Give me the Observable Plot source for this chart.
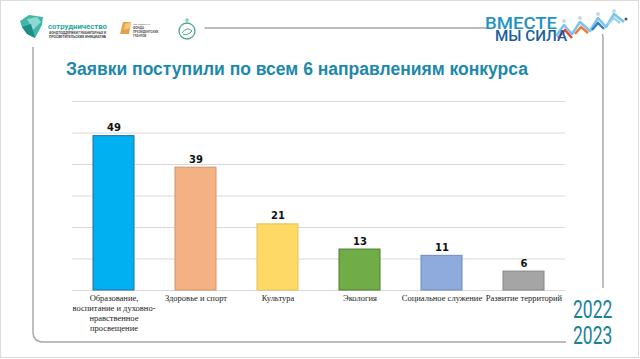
<!DOCTYPE html>
<html>
<head>
<meta charset="utf-8">
<script src="https://cdn.jsdelivr.net/npm/d3@7"></script>
<script src="https://cdn.jsdelivr.net/npm/@observablehq/plot@0.6"></script>
<style>
  html, body { margin: 0; padding: 0; background: #fff; }
  #slide { position: relative; width: 640px; height: 359px; overflow: hidden; background: #fff; }
  .abs { position: absolute; left: 0; top: 0; }
  #title { position: absolute; left: 0; width: 594px; top: 59px; text-align: center; font-family: "Liberation Sans", Arial, sans-serif; font-weight: bold; font-size: 17.5px; color: #1C88AC; white-space: nowrap; }
</style>
</head>
<body>
<div id="slide">
  <div id="chart" class="abs"></div>
  <div id="title">Заявки поступили по всем 6 направлениям конкурса</div>
  <svg class="abs" width="640" height="359" id="fg">
    <rect x="0.5" y="0.5" width="638" height="357" fill="none" stroke="#dcdcdc" stroke-width="1"/>
    <rect x="33" y="28" width="570" height="314" rx="9" ry="9" fill="none" stroke="#a8a8a8" stroke-width="1.5"/>
    <rect x="1.5" y="3" width="203" height="44" fill="#fff"/>
    <rect x="487" y="3" width="150" height="31" fill="#fff"/>
    <rect x="566" y="288" width="70" height="68" fill="#fff"/>
    <!-- сотрудничество logo -->
    <polygon points="20,21 29,15 43,17 42,25 35,38 27,34 22,27" fill="#3fb8aa"/>
    <polygon points="27,19 37,17 41,22 33,30" fill="#8fd8cf"/>
    <polygon points="22,27 31,24 35,38 27,34" fill="#1f8f86"/>
    <text x="48" y="29" font-family="Roboto, sans-serif" font-size="8" font-weight="bold" fill="#2aa99b" textLength="59" lengthAdjust="spacingAndGlyphs">сотрудничество</text>
    <text x="49" y="34" font-family="Roboto, sans-serif" font-size="2.7" font-weight="bold" fill="#444" textLength="57" lengthAdjust="spacingAndGlyphs">ФОНД ПОДДЕРЖКИ ГУМАНИТАРНЫХ И</text>
    <text x="49" y="37.5" font-family="Roboto, sans-serif" font-size="2.7" font-weight="bold" fill="#444" textLength="57" lengthAdjust="spacingAndGlyphs">ПРОСВЕТИТЕЛЬСКИХ ИНИЦИАТИВ</text>
    <!-- presidential grants -->
    <polygon points="123,22 131,22 129,34 120,34" fill="#e3a24a"/>
    <polygon points="125,24 131,22 130,28 124,30" fill="#f3c77d"/>
    <text x="133" y="25" font-family="Roboto, sans-serif" font-size="2.4" fill="#666">при поддержке</text>
    <text x="133" y="29" font-family="Roboto, sans-serif" font-size="3" font-weight="bold" fill="#555">ФОНДА</text>
    <text x="133" y="33" font-family="Roboto, sans-serif" font-size="3" font-weight="bold" fill="#555">ПРЕЗИДЕНТСКИХ</text>
    <text x="133" y="37" font-family="Roboto, sans-serif" font-size="3" font-weight="bold" fill="#555">ГРАНТОВ</text>
    <!-- circle logo -->
    <circle cx="187" cy="31" r="8" fill="none" stroke="#4aa88a" stroke-width="1.3"/>
    <path d="M182,33 Q187,26 192,31 Q188,36 183,34" fill="none" stroke="#4aa88a" stroke-width="1"/>
    <line x1="187" y1="18" x2="187" y2="24" stroke="#4aa88a" stroke-width="0.8"/>
    <line x1="185" y1="20" x2="189" y2="20" stroke="#4aa88a" stroke-width="0.8"/>
    <!-- ВМЕСТЕ МЫ СИЛА -->
    <polyline points="556,36 564,25 572,34 580,22 590,31 598,18 606,27 614,14 624,22" fill="none" stroke="#7cc3ee" stroke-width="2.6" stroke-linejoin="round"/>
    <polyline points="558,38 565,30 572,38" fill="none" stroke="#e2453c" stroke-width="2.4"/>
    <polyline points="575,34 581,27 588,33" fill="none" stroke="#f07a3a" stroke-width="2.4"/>
    <polyline points="592,30 598,23 604,29" fill="none" stroke="#2d7fc8" stroke-width="2.4"/>
    <polyline points="608,24 614,18 620,23" fill="none" stroke="#9fd3f2" stroke-width="2.4"/>
    <circle cx="564" cy="21" r="2" fill="#c8d8e8"/>
    <circle cx="580" cy="18" r="2" fill="#c8d8e8"/>
    <circle cx="598" cy="14" r="2" fill="#c8d8e8"/>
    <circle cx="614" cy="11" r="2" fill="#c8d8e8"/>
    <circle cx="626" cy="19" r="1.5" fill="#555"/>
    <text x="485" y="29" font-family="Roboto, sans-serif" font-size="16.5" font-weight="500" fill="#1E93C4" textLength="72" lengthAdjust="spacingAndGlyphs">ВМЕСТЕ</text>
    <text x="495" y="40.5" font-family="Roboto, sans-serif" font-size="15.5" font-weight="500" fill="#1A5E9C" textLength="72" lengthAdjust="spacingAndGlyphs">МЫ СИЛА</text>
    <!-- 2022 2023 -->
    <g transform="translate(573,317.5) scale(0.7,1.06)">
      <text x="0" y="0" font-family="Roboto, sans-serif" font-size="25" fill="#1B819C">2022</text>
    </g>
    <g transform="translate(573,343.5) scale(0.7,1.06)">
      <text x="0" y="0" font-family="Roboto, sans-serif" font-size="25" fill="#1B819C">2023</text>
    </g>
  </svg>
</div>
<script>
const categories = [
  "Образование, воспитание и духовно-нравственное просвещение",
  "Здоровье и спорт",
  "Культура",
  "Экология",
  "Социальное служение",
  "Развитие территорий"
];
const values = [49, 39, 21, 13, 11, 6];
const tickLabels = [
  "Образование,\nвоспитание и духовно-\nнравственное\nпросвещение",
  "Здоровье и спорт",
  "Культура",
  "Экология",
  "Социальное служение",
  "Развитие территорий"
];
const fills = ["#00B0F0", "#F4B183", "#FFD966", "#70AD47", "#8FAADC", "#A5A5A5"];
const strokes = ["#1F6FA8", "#D2946A", "#E3C25A", "#4E7B31", "#6C8CC2", "#858585"];
const gridTicks = [0, 10, 20, 30, 40, 50, 60];

const data = categories.map((c, i) => ({cat: c, value: values[i], fill: fills[i], stroke: strokes[i]}));

const chart = Plot.plot({
  width: 640,
  height: 359,
  marginLeft: 72,
  marginRight: 75,
  marginTop: 101,
  marginBottom: 69,
  style: {background: "transparent", overflow: "visible"},
  x: {domain: categories, paddingInner: 0.5, paddingOuter: 0.25, align: 0.5, axis: null},
  y: {domain: [0, 60], axis: null},
  color: {type: "identity"},
  marks: [
    Plot.ruleY(gridTicks, {stroke: "#d9d9d9", strokeWidth: 1}),
    Plot.barY(data, {x: "cat", y: "value", fill: "fill", stroke: "stroke", strokeWidth: 1}),
    Plot.text(data, {x: "cat", y: "value", text: d => String(d.value), dy: -5, lineAnchor: "bottom", fontWeight: "bold", fontSize: 10, fontFamily: "DejaVu Sans, sans-serif", fill: "#111"}),
    Plot.axisX({
      domain: categories,
      tickSize: 0,
      tickPadding: 3,
      label: null,
      tickFormat: d => tickLabels[categories.indexOf(d)],
      fontFamily: "Liberation Serif, serif",
      fontSize: 8.5,
      lineHeight: 1.2,
      fill: "#222",
      color: "#222"
    })
  ]
});
document.getElementById("chart").appendChild(chart);
</script>
</body>
</html>
